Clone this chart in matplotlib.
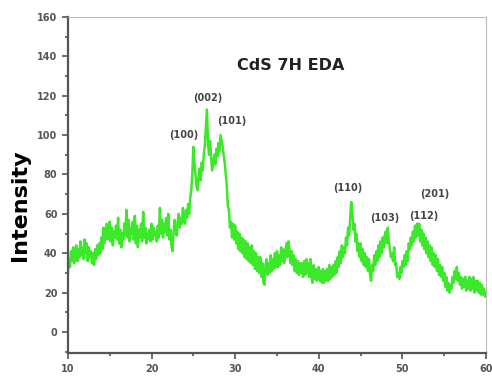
import numpy as np
import matplotlib
matplotlib.use("Agg")
import matplotlib.pyplot as plt
from matplotlib.ticker import MultipleLocator

# 2theta from 10 to 60 deg, step 0.125 (8 readings per degree)
two_theta = np.arange(10.0, 60.001, 0.125)
intensity = [
    30, 37, 33, 41, 36, 43, 35, 40,   44, 36, 42, 38, 46, 39, 43, 37,
    47, 40, 45, 36, 43, 38, 41, 35,   40, 34, 42, 37, 44, 39, 45, 40,
    48, 42, 53, 45, 50, 55, 47, 52,   56, 46, 53, 44, 51, 48, 54, 47,
    58, 45, 52, 43, 50, 47, 55, 49,   62, 48, 57, 46, 53, 50, 56, 47,
    59, 45, 54, 43, 52, 48, 55, 46,   61, 48, 53, 45, 50, 47, 52, 46,
    55, 47, 53, 49, 51, 46, 54, 48,   63, 50, 57, 48, 55, 51, 58, 49,
    60, 47, 52, 44, 41, 50, 57, 52,   49, 56, 60, 53, 58, 55, 63, 57,
    55, 62, 58, 65, 60, 68, 72, 80,   94, 86, 80, 74, 72, 79, 83, 77,
    86, 82, 90, 95, 104, 113, 96, 90, 97, 88, 82, 86, 90, 85, 93, 89,
    96, 92, 100, 97, 94, 90, 86, 80,  74, 64, 62, 53, 56, 48, 55, 47,
    54, 45, 51, 42, 50, 41, 48, 40,   47, 38, 46, 37, 45, 36, 43, 35,
    44, 34, 41, 32, 40, 31, 38, 30,   38, 28, 35, 25, 24, 34, 37, 29,
    35, 30, 39, 31, 37, 32, 40, 33,   41, 33, 39, 34, 43, 36, 42, 35,
    40, 45, 38, 46, 42, 35, 41, 34,   39, 31, 37, 30, 36, 29, 35, 30,
    35, 28, 36, 29, 37, 30, 35, 28,   37, 28, 25, 34, 27, 32, 26, 31,
    33, 26, 31, 25, 32, 25, 31, 26,   32, 26, 34, 27, 33, 28, 34, 29,
    36, 30, 38, 33, 41, 35, 44, 38,   43, 40, 48, 44, 53, 49, 58, 66,
    61, 52, 55, 46, 50, 41, 45, 38,   45, 36, 42, 34, 40, 33, 38, 31,
    37, 29, 26, 34, 31, 39, 34, 41,   36, 44, 38, 46, 40, 48, 43, 49,
    51, 45, 53, 46, 42, 38, 40, 36,   43, 34, 35, 28, 30, 27, 33, 30,
    36, 33, 39, 34, 41, 36, 45, 42,   48, 44, 51, 46, 54, 48, 55, 49,
    55, 46, 52, 44, 50, 42, 48, 40,   46, 38, 44, 36, 43, 34, 40, 33,
    39, 31, 37, 29, 34, 28, 33, 26,   30, 23, 28, 21, 25, 20, 24, 22,
    28, 25, 31, 27, 33, 26, 30, 24,   28, 22, 27, 23, 28, 21, 26, 22,
    28, 21, 27, 22, 28, 20, 26, 21,   26, 20, 25, 19, 24, 19, 22, 18,
    20,
]

peak_labels = ["(100)", "(002)", "(101)", "(110)", "(103)", "(112)", "(201)"]
peak_x = [23.8, 26.75, 29.6, 43.4, 47.9, 52.5, 53.9]
peak_y = [100, 119, 107, 73, 58, 59, 70]

fig = plt.figure(figsize=(4.92, 3.83), dpi=100)
ax = fig.add_axes([0.138, 0.078, 0.850, 0.878])

ax.plot(two_theta, intensity, color="#3ce82a", linewidth=1.8)

ax.set_xlim(10, 60)
ax.set_ylim(-10.7, 160)
ax.xaxis.set_major_locator(MultipleLocator(10))
ax.xaxis.set_minor_locator(MultipleLocator(5))
ax.yaxis.set_major_locator(MultipleLocator(20))
ax.yaxis.set_minor_locator(MultipleLocator(10))
ax.tick_params(which="both", direction="out", colors="#555555",
               labelsize=7, width=1.2)
ax.tick_params(which="major", length=4)
ax.tick_params(which="minor", length=2.5)
for lab in ax.get_xticklabels() + ax.get_yticklabels():
    lab.set_fontweight("bold")

for side in ["left", "bottom"]:
    ax.spines[side].set_color("#555555")
    ax.spines[side].set_linewidth(1.6)
for side in ["top", "right"]:
    ax.spines[side].set_color("#bbbbbb")
    ax.spines[side].set_linewidth(0.8)

ax.set_ylabel("Intensity", fontsize=16, fontweight="bold")
ax.yaxis.set_label_coords(-0.091, 0.44)

ax.text(36.6, 135.5, "CdS 7H EDA", fontsize=11.5, fontweight="bold",
        ha="center", va="center", color="#222222")
for lab, px, py in zip(peak_labels, peak_x, peak_y):
    ax.text(px, py, lab, fontsize=7, fontweight="bold",
            ha="center", va="center", color="#444444")

fig.savefig("out.png", dpi=100)
